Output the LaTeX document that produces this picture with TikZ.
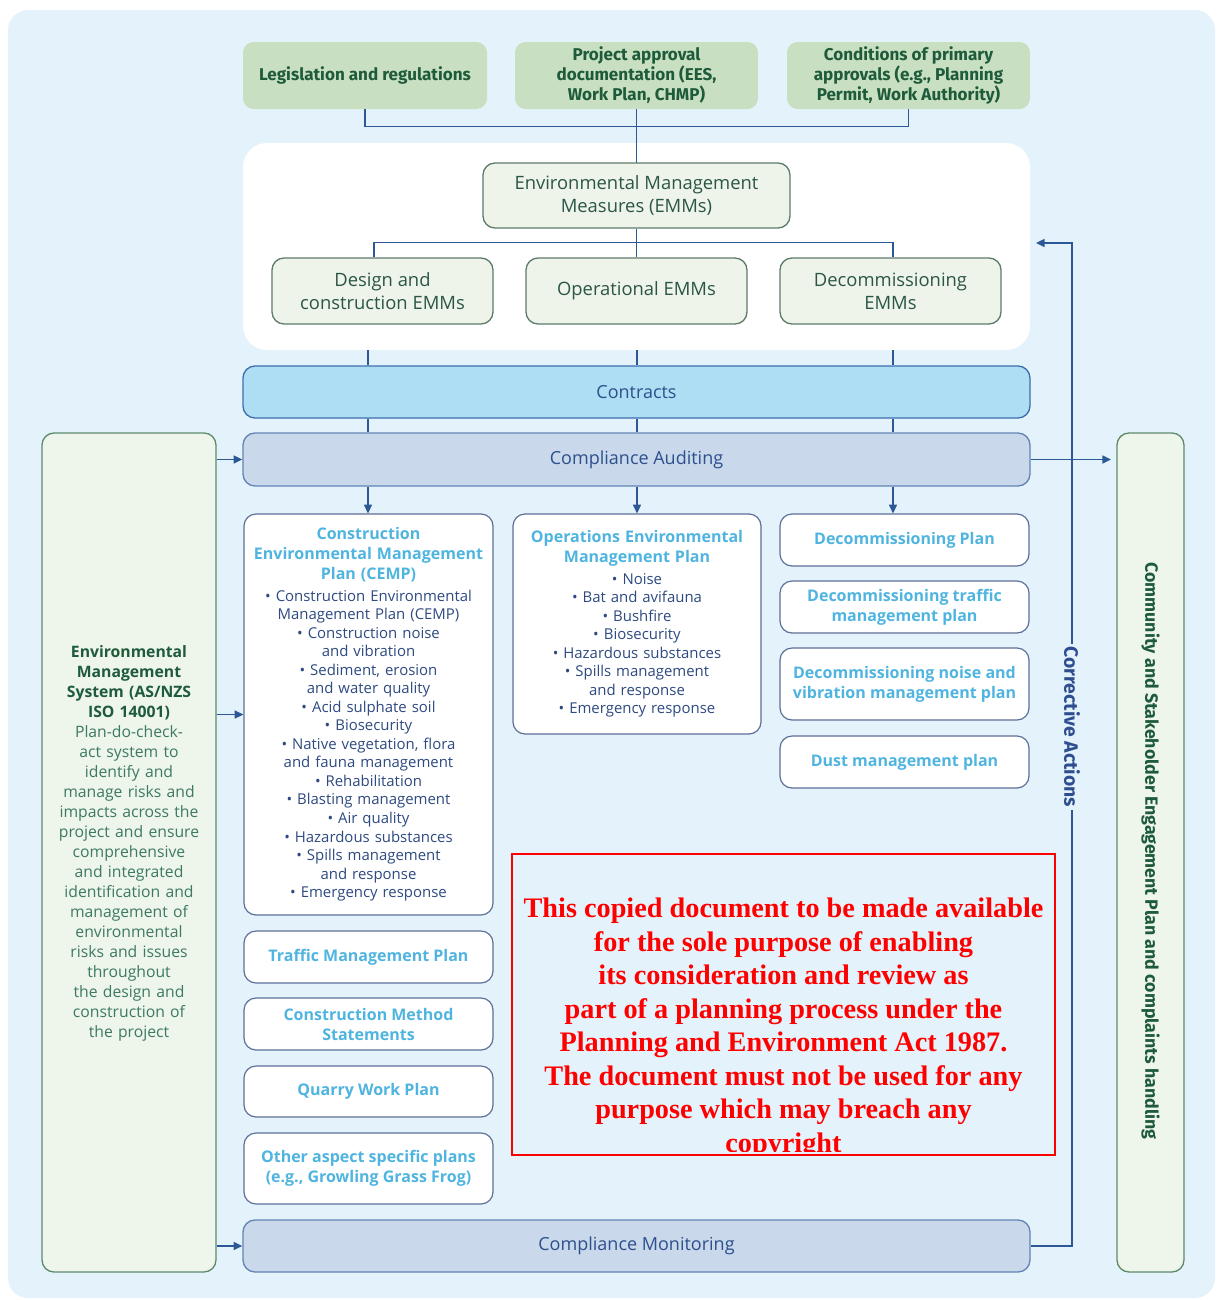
\documentclass[tikz,border=0pt]{standalone}
\usepackage{fontspec}
\setmainfont{Open Sans}
\newfontfamily\condf{Fira Sans}
\newfontfamily\wmf{Liberation Serif}
\usetikzlibrary{arrows.meta}
\definecolor{bgblue}{HTML}{E4F3FB}
\definecolor{topgreen}{HTML}{C9DFC2}
\definecolor{dkgreen}{HTML}{1E5B3A}
\definecolor{emmfill}{HTML}{EEF4EA}
\definecolor{emmline}{HTML}{5E7C6C}
\definecolor{emmtext}{HTML}{2B5646}
\definecolor{confill}{HTML}{AEDEF4}
\definecolor{conline}{HTML}{3D6EAC}
\definecolor{bartext}{HTML}{2D4F8C}
\definecolor{audfill}{HTML}{C9D9EB}
\definecolor{audline}{HTML}{6383B4}
\definecolor{planline}{HTML}{5D7098}
\definecolor{ptblue}{HTML}{4FB5E0}
\definecolor{listblue}{HTML}{2E4A80}
\definecolor{lnblue}{HTML}{2C5896}
\definecolor{emsfill}{HTML}{EEF5EB}
\definecolor{emsline}{HTML}{5E8A6C}
\definecolor{emstext}{HTML}{3D7A5F}
\definecolor{cablue}{HTML}{2E4E90}
\begin{document}
\begin{tikzpicture}[x=0.75pt,y=-0.75pt,
  sz/.style 2 args={minimum width=#1*0.75pt, minimum height=#2*0.75pt},
  topbox/.style={fill=topgreen, rounded corners=8pt, inner sep=0pt, align=center, text=dkgreen, font=\condf\bfseries\fontsize{12.8}{15}\selectfont},
  emmbox/.style={fill=emmfill, draw=emmline, line width=1pt, rounded corners=9pt, inner sep=0pt, align=center, text=emmtext, font=\fontsize{13.8}{17}\selectfont},
  conbar/.style={fill=confill, draw=conline, line width=1pt, rounded corners=9pt, inner sep=0pt, text=bartext, font=\fontsize{13.5}{16}\selectfont},
  audbar/.style={fill=audfill, draw=audline, line width=1pt, rounded corners=9pt, inner sep=0pt, text=bartext, font=\fontsize{13.5}{16}\selectfont},
  planbox/.style={fill=white, draw=planline, line width=0.9pt, rounded corners=9pt, inner sep=0pt, align=center, text=ptblue, font=\bfseries\fontsize{12}{15}\selectfont},
  listbox/.style={fill=white, draw=planline, line width=0.9pt, rounded corners=9pt, inner sep=0pt, align=center, text=listblue, font=\fontsize{11.2}{13.9}\selectfont},
  link/.style={draw=lnblue, line width=1.1pt},
  arr/.style={link, -{Triangle[length=6.5pt,width=6pt]}},
  sidebox/.style={fill=emsfill, draw=emsline, line width=1pt, rounded corners=9pt, inner sep=0pt}
]
\useasboundingbox (0,0) rectangle (1217,1300);
\fill[bgblue, rounded corners=15pt] (8,10) rectangle (1215,1298);

% top boxes
\node[topbox, sz={244}{67}] (leg) at (365,75.5) {Legislation and regulations};
\node[topbox, sz={243}{67}] (proj) at (636.5,75.5) {Project approval\\documentation (EES,\\Work Plan, CHMP)};
\node[topbox, sz={243}{67}] (cond) at (908.5,75.5) {Conditions of primary\\approvals (e.g., Planning\\Permit, Work Authority)};

% white panel
\node[fill=white, rounded corners=18pt, sz={787}{207}, inner sep=0pt] (panel) at (636.5,246.5) {};

\draw[link] (leg.south) -- ++(0,17) -| (cond.south);
\draw[link] (proj.south) -- (636.5,163);

\node[emmbox, sz={307}{65}] (emm) at (636.5,195.5) {Environmental Management\\Measures (EMMs)};
\node[emmbox, sz={221}{66}] (dc) at (382.5,291) {Design and\\construction EMMs};
\node[emmbox, sz={221}{66}] (op) at (636.5,291) {Operational EMMs};
\node[emmbox, sz={221}{66}] (de) at (890.5,291) {Decommissioning\\EMMs};
\draw[link] (emm.south) -- (op.north);
\draw[link] ([xshift=-6.5pt]dc.north) -- ++(0,-15) -| ([xshift=2pt]de.north);

% bars
\node[conbar, sz={787}{52}] (contracts) at (636.5,392) {Contracts};
\node[audbar, sz={787}{53}] (audit) at (636.5,459.5) {Compliance Auditing};
\node[audbar, sz={787}{52}] (monitor) at (636.5,1246) {Compliance Monitoring};

\coordinate (c1) at (368,0);
\coordinate (c2) at (637,0);
\coordinate (c3) at (893,0);
\foreach \c in {c1,c2,c3}{
  \draw[link] (\c |- panel.south) -- (\c |- contracts.north);
  \draw[link] (\c |- contracts.south) -- (\c |- audit.north);
}

% side boxes
\node[sidebox, sz={174}{839}] (ems) at (129,852.5) {};
\node[align=center, text width=172*0.75pt, text=emstext, font=\fontsize{11.8}{15}\selectfont, inner sep=0pt] (emsl) at (129,843)
 {{\color{dkgreen}\bfseries Environmental\\Management\\System (AS/NZS\\ISO 14001)\par}Plan-do-check-\\act system to\\identify and\\manage risks and\\impacts across the\\project and ensure\\comprehensive\\and integrated\\identification and\\management of\\environmental\\risks and issues\\throughout\\the design and\\construction of\\the project\par};
\node[sidebox, sz={67}{839}] (comm) at (1150.5,852.5) {};
\node[rotate=-90, text=dkgreen, font=\condf\bfseries\fontsize{13.3}{15}\selectfont, inner sep=0pt] (commt) at (1150.5,851) {Community and Stakeholder Engagement Plan and complaints handling};

% plans
\node[listbox, sz={249}{401}, text width=244*0.75pt] (cemp) at (368.5,714.5)
 {{\color{ptblue}\bfseries\fontsize{12}{15}\selectfont Construction\\Environmental Management\\Plan (CEMP)\par}\vspace{2pt}
 • Construction Environmental\\Management Plan (CEMP)\\• Construction noise\\and vibration\\• Sediment, erosion\\and water quality\\• Acid sulphate soil\\• Biosecurity\\• Native vegetation, flora\\and fauna management\\• Rehabilitation\\• Blasting management\\• Air quality\\• Hazardous substances\\• Spills management\\and response\\• Emergency response\par};
\node[listbox, sz={248}{220}, text width=244*0.75pt] (ops) at (637,624)
 {{\color{ptblue}\bfseries\fontsize{12}{15}\selectfont Operations Environmental\\Management Plan\par}\vspace{2pt}
 • Noise\\• Bat and avifauna\\• Bushfire\\• Biosecurity\\• Hazardous substances\\• Spills management\\and response\\• Emergency response\par};
\node[planbox, sz={249}{52}] (dplan) at (904.5,540) {Decommissioning Plan};
\node[planbox, sz={249}{52}] (dtraffic) at (904.5,607) {Decommissioning traffic\\management plan};
\node[planbox, sz={249}{72}] (dnoise) at (904.5,684) {Decommissioning noise and\\vibration management plan};
\node[planbox, sz={249}{52}] (dust) at (904.5,762) {Dust management plan};
\node[planbox, sz={249}{52}] (tmp) at (368.5,957) {Traffic Management Plan};
\node[planbox, sz={249}{52}] (cms) at (368.5,1024) {Construction Method\\Statements};
\node[planbox, sz={249}{51}] (qwp) at (368.5,1091.5) {Quarry Work Plan};
\node[planbox, sz={249}{71}] (other) at (368.5,1168.5) {Other aspect specific plans\\(e.g., Growling Grass Frog)};

% arrows
\draw[arr] (c1 |- audit.south) -- (c1 |- cemp.north);
\draw[arr] (c2 |- audit.south) -- (c2 |- ops.north);
\draw[arr] (c3 |- audit.south) -- (c3 |- dplan.north);
\draw[arr] (ems.east |- audit) -- (audit.west);
\draw[arr] (ems.east |- cemp) -- (cemp.west);
\draw[arr] (ems.east |- monitor) -- (monitor.west);
\draw[arr, shorten >=4pt] (audit.east) -- (comm.west |- audit);
\coordinate (caend) at (1036,243);
\draw[arr] (monitor.east) -| (1072,243) -- (caend);
\node[rotate=-90, fill=bgblue, inner sep=2pt, text=cablue, font=\condf\bfseries\fontsize{14.5}{16}\selectfont] (ca) at (1072,727) {Corrective Actions};

% watermark
\begin{scope}
\clip (513,855) rectangle (1054,1151);
\node[anchor=north, align=center, text=red, inner sep=0pt, font=\wmf\bfseries\fontsize{21.2}{25.1}\selectfont] (wmt) at (783.5,898)
 {This copied document to be made available\\for the sole purpose of enabling\\its consideration and review as\\part of a planning process under the\\Planning and Environment Act 1987.\\The document must not be used for any\\purpose which may breach any\\copyright};
\end{scope}
\node[draw=red, line width=1.6pt, sz={543}{301}, inner sep=0pt] (wmbox) at (783.5,1004.5) {};
\end{tikzpicture}
\end{document}
